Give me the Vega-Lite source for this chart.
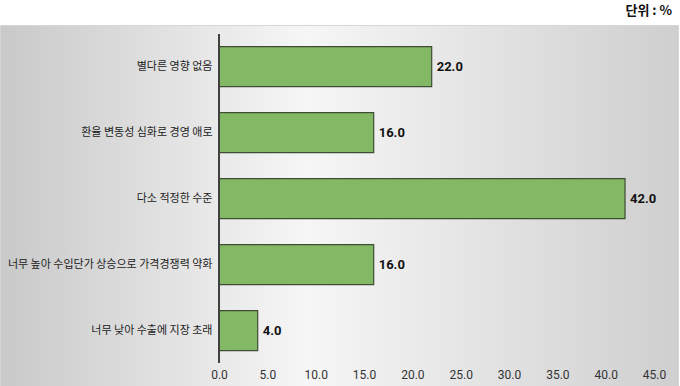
{
  "$schema": "https://vega.github.io/schema/vega-lite/v6.json",
  "width": 680,
  "height": 386,
  "autosize": {"type": "fit", "contains": "padding"},
  "padding": {"top": 5, "left": 0, "right": 2, "bottom": 0},
  "background": "#ffffff",
  "title": {
    "text": "단위 : %",
    "anchor": "end",
    "frame": "group",
    "font": "Noto Sans CJK KR",
    "fontSize": 13,
    "fontWeight": "bold",
    "color": "#111111",
    "offset": 7,
    "dx": -6
  },
  "config": {
    "view": {
      "fill": {
        "gradient": "linear",
        "x1": 0, "y1": 0, "x2": 1, "y2": 0,
        "stops": [
          {"offset": 0, "color": "#c9c9c9"},
          {"offset": 0.45, "color": "#f6f6f6"},
          {"offset": 1, "color": "#cfcfcf"}
        ]
      },
      "stroke": "#d6d6d6"
    }
  },
  "data": {
    "values": [
      {"label": "별다른 영향 없음", "value": 22.0},
      {"label": "환율 변동성 심화로 경영 애로", "value": 16.0},
      {"label": "다소 적정한 수준", "value": 42.0},
      {"label": "너무 높아 수입단가 상승으로 가격경쟁력 약화", "value": 16.0},
      {"label": "너무 낮아 수출에 지장 초래", "value": 4.0}
    ]
  },
  "resolve": {"scale": {"y": "independent"}},
  "layer": [
    {
      "mark": {"type": "bar", "fill": "#83b965", "stroke": "#3e4d34", "strokeWidth": 1.2},
      "encoding": {
        "y": {
          "field": "label",
          "type": "nominal",
          "sort": null,
          "scale": {"paddingInner": 0.394, "paddingOuter": 0.432, "align": 0.38},
          "axis": {
            "title": null,
            "offset": -219,
            "domain": false,
            "ticks": false,
            "labelPadding": 7,
            "labelFont": "Noto Sans CJK KR",
            "labelFontSize": 11,
            "labelColor": "#222222",
            "labelLimit": 260
          }
        },
        "x": {
          "field": "value",
          "type": "quantitative",
          "scale": {"domain": [-22.66, 47.48], "nice": false, "zero": false},
          "axis": {
            "title": null,
            "values": [0, 5, 10, 15, 20, 25, 30, 35, 40, 45],
            "format": ".1f",
            "grid": false,
            "domain": false,
            "ticks": false,
            "offset": -20,
            "labelPadding": 3,
            "labelFont": "Roboto",
            "labelFontSize": 12,
            "labelColor": "#333333"
          }
        }
      }
    },
    {
      "mark": {"type": "text", "align": "left", "baseline": "middle", "dx": 5, "font": "Roboto", "fontSize": 13, "fontWeight": "bold", "color": "#111111"},
      "encoding": {
        "y": {"field": "label", "type": "nominal", "sort": null, "bandPosition": 0.5, "scale": {"type": "band", "paddingInner": 0.394, "paddingOuter": 0.432, "align": 0.38}, "axis": null},
        "x": {"field": "value", "type": "quantitative"},
        "text": {"field": "value", "type": "quantitative", "format": ".1f"}
      }
    },
    {
      "mark": {"type": "rule", "color": "#404040", "strokeWidth": 1.3},
      "encoding": {
        "x": {"datum": 0, "type": "quantitative"},
        "y": {"datum": 0.975, "type": "quantitative", "scale": {"domain": [0, 1], "nice": false, "zero": false}, "axis": null},
        "y2": {"datum": 0.064}
      }
    }
  ]
}
